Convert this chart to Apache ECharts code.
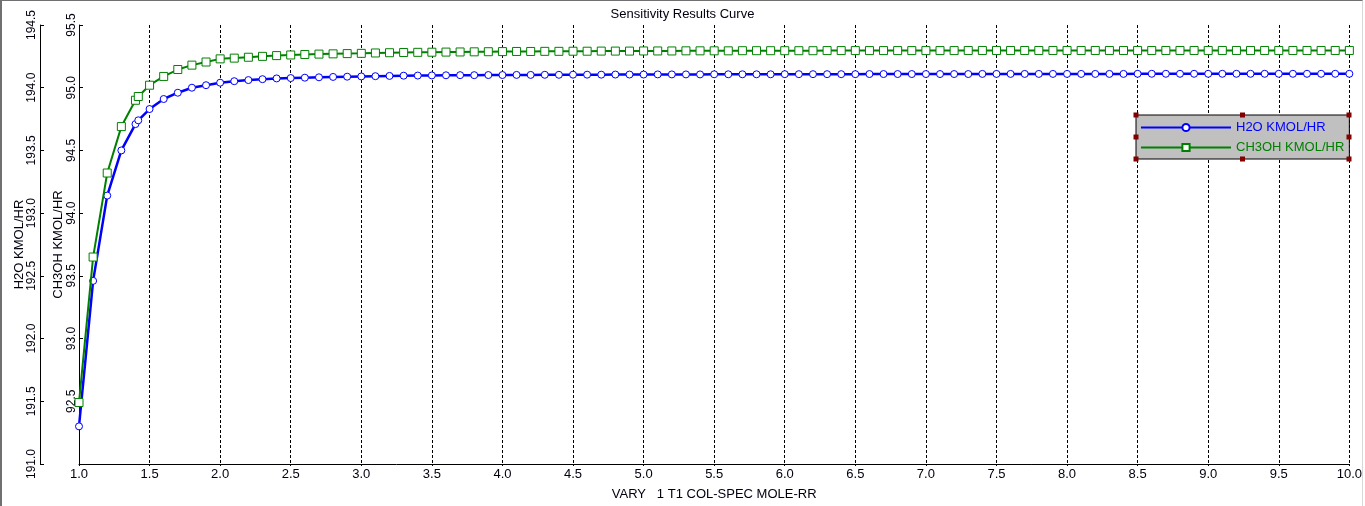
<!DOCTYPE html>
<html>
<head>
<meta charset="utf-8">
<script src="https://cdn.jsdelivr.net/npm/echarts@6/dist/echarts.min.js"></script>
<style>
  html, body { margin: 0; padding: 0; background: #fff; }
  #wrap { position: relative; width: 1365px; height: 506px; }
  #chart { position: absolute; left: 0; top: 0; width: 1365px; height: 506px; }
  #frame { position: absolute; left: 0; top: 0; width: 1363px; height: 506px;
           border-left: 2px solid #707070; border-top: 1px solid #707070;
           border-right: 1px solid #d8d8d8; box-sizing: border-box; pointer-events: none; }
</style>
</head>
<body>
<div id="wrap"><div id="chart"></div><div id="frame"></div></div>
<script>
// ---- Data ----
const xValues = [
  1.0, 1.1, 1.2, 1.3, 1.4, 1.42, 1.5, 1.6, 1.7, 1.8, 1.9,
  2.0, 2.1, 2.2, 2.3, 2.4, 2.5, 2.6, 2.7, 2.8, 2.9,
  3.0, 3.1, 3.2, 3.3, 3.4, 3.5, 3.6, 3.7, 3.8, 3.9,
  4.0, 4.1, 4.2, 4.3, 4.4, 4.5, 4.6, 4.7, 4.8, 4.9,
  5.0, 5.1, 5.2, 5.3, 5.4, 5.5, 5.6, 5.7, 5.8, 5.9,
  6.0, 6.1, 6.2, 6.3, 6.4, 6.5, 6.6, 6.7, 6.8, 6.9,
  7.0, 7.1, 7.2, 7.3, 7.4, 7.5, 7.6, 7.7, 7.8, 7.9,
  8.0, 8.1, 8.2, 8.3, 8.4, 8.5, 8.6, 8.7, 8.8, 8.9,
  9.0, 9.1, 9.2, 9.3, 9.4, 9.5, 9.6, 9.7, 9.8, 9.9,
  10.0
];
const h2oValues = [
  191.30, 192.46, 193.14, 193.50, 193.71, 193.74, 193.83, 193.91, 193.96, 194.00, 194.02,
  194.040, 194.052, 194.061, 194.068, 194.074, 194.077, 194.080, 194.083, 194.086, 194.088,
  194.090, 194.092, 194.094, 194.096, 194.097, 194.098, 194.099, 194.100, 194.100, 194.101,
  194.101, 194.102, 194.102, 194.103, 194.103, 194.104, 194.104, 194.104, 194.105, 194.105,
  194.105, 194.106, 194.106, 194.106, 194.106, 194.107, 194.107, 194.107, 194.107, 194.107,
  194.108, 194.108, 194.108, 194.108, 194.108, 194.108, 194.109, 194.109, 194.109, 194.109,
  194.109, 194.109, 194.109, 194.109, 194.110, 194.110, 194.110, 194.110, 194.110, 194.110,
  194.110, 194.110, 194.110, 194.110, 194.110, 194.111, 194.111, 194.111, 194.111, 194.111,
  194.111, 194.111, 194.111, 194.111, 194.111, 194.111, 194.111, 194.111, 194.111, 194.111,
  194.111
];
const ch3ohValues = [
  92.49, 93.65, 94.32, 94.69, 94.90, 94.93, 95.02, 95.09, 95.145, 95.18, 95.205,
  95.230, 95.236, 95.243, 95.250, 95.256, 95.261, 95.265, 95.268, 95.270, 95.272,
  95.274, 95.277, 95.279, 95.281, 95.282, 95.283, 95.284, 95.285, 95.286, 95.287,
  95.288, 95.289, 95.289, 95.290, 95.290, 95.291, 95.291, 95.292, 95.292, 95.292,
  95.293, 95.293, 95.293, 95.294, 95.294, 95.294, 95.294, 95.295, 95.295, 95.295,
  95.295, 95.295, 95.295, 95.296, 95.296, 95.296, 95.296, 95.296, 95.296, 95.296,
  95.296, 95.296, 95.296, 95.297, 95.297, 95.297, 95.297, 95.297, 95.297, 95.297,
  95.297, 95.297, 95.297, 95.297, 95.297, 95.297, 95.297, 95.297, 95.297, 95.297,
  95.297, 95.297, 95.297, 95.297, 95.297, 95.297, 95.297, 95.297, 95.297, 95.297,
  95.297
];
const seriesNames = ['H2O KMOL/HR', 'CH3OH KMOL/HR'];
const titleText = 'Sensitivity Results Curve';
const xAxisName = 'VARY   1 T1 COL-SPEC MOLE-RR';

// ---- Chart ----
const FONT = '"Liberation Sans", Arial, sans-serif';
const TXT = '#000010';
const chart = echarts.init(document.getElementById('chart'), null, { renderer: 'canvas' });

const fmt = v => Number(v).toFixed(1);

const legendBox = { x: 1136, y: 115, w: 213, h: 44 };
const handles = [];
[[0,0],[0.5,0],[1,0],[0,0.5],[1,0.5],[0,1],[0.5,1],[1,1]].forEach(p => {
  handles.push({
    type: 'rect', z: 100, silent: true,
    shape: { x: legendBox.x + p[0]*legendBox.w - 2.5, y: legendBox.y + p[1]*legendBox.h - 2.5, width: 5, height: 5 },
    style: { fill: '#800000' }
  });
});

const yAxisCommon = {
  type: 'value', position: 'left', interval: 0.5,
  nameLocation: 'middle', nameRotate: 90, nameMoveOverlap: false,
  nameTextStyle: { fontFamily: FONT, fontSize: 13, color: TXT },
  axisLine: { show: true, onZero: false, lineStyle: { color: '#000', width: 1 } },
  axisTick: { show: true, inside: true, length: 4, lineStyle: { color: '#000' } },
  axisLabel: { rotate: 90, fontFamily: FONT, fontSize: 12, color: TXT, formatter: fmt },
  splitLine: { show: false }
};

chart.setOption({
  animation: false,
  backgroundColor: '#fff',
  title: {
    text: titleText, left: 'center', top: 8, padding: 0,
    textStyle: { fontFamily: FONT, fontSize: 13, fontWeight: 'normal', color: TXT }
  },
  grid: { left: 79, right: 14, top: 25, bottom: 36, containLabel: false },
  legend: {
    orient: 'vertical', left: legendBox.x, top: legendBox.y,
    padding: [6, 5, 5, 4], itemGap: 7, itemWidth: 90, itemHeight: 9,
    backgroundColor: '#c0c0c0', borderColor: '#000', borderWidth: 1,
    textStyle: { fontFamily: FONT, fontSize: 13 },
    data: [
      { name: seriesNames[0], textStyle: { color: '#0000ff' } },
      { name: seriesNames[1], textStyle: { color: '#008000' } }
    ]
  },
  xAxis: {
    type: 'value', min: 1, max: 10, interval: 0.5,
    name: xAxisName, nameLocation: 'middle', nameGap: 24, nameMoveOverlap: false,
    nameTextStyle: { fontFamily: FONT, fontSize: 13, color: TXT },
    axisLine: { show: true, onZero: false, lineStyle: { color: '#000', width: 1 } },
    axisTick: { show: true, length: 2, lineStyle: { color: '#000' } },
    axisLabel: { fontFamily: FONT, fontSize: 13, color: TXT, margin: 4, formatter: fmt },
    splitLine: { show: true, lineStyle: { color: '#000', width: 1, type: [3, 2] } }
  },
  yAxis: [
    Object.assign({}, yAxisCommon, {
      min: 191.0, max: 194.5, offset: 39, name: seriesNames[0], nameGap: 14,
      axisLabel: Object.assign({}, yAxisCommon.axisLabel, { margin: 2 })
    }),
    Object.assign({}, yAxisCommon, {
      min: 92.0, max: 95.5, offset: 0, name: seriesNames[1], nameGap: 14,
      axisLabel: Object.assign({}, yAxisCommon.axisLabel, { margin: 1, showMinLabel: false })
    })
  ],
  series: [
    {
      name: seriesNames[0], type: 'line', yAxisIndex: 0,
      data: xValues.map((x, i) => [x, h2oValues[i]]),
      symbol: 'circle', symbolSize: 7, showAllSymbol: true,
      lineStyle: { color: '#0000ff', width: 2.5 },
      itemStyle: { color: '#ffffff', borderColor: '#0000ff', borderWidth: 1 },
      z: 3
    },
    {
      name: seriesNames[1], type: 'line', yAxisIndex: 1,
      data: xValues.map((x, i) => [x, ch3ohValues[i]]),
      symbol: 'rect', symbolSize: 8, showAllSymbol: true,
      lineStyle: { color: '#008000', width: 2 },
      itemStyle: { color: '#ffffff', borderColor: '#008000', borderWidth: 1 },
      z: 4
    }
  ],
  graphic: handles
});
</script>
</body>
</html>
